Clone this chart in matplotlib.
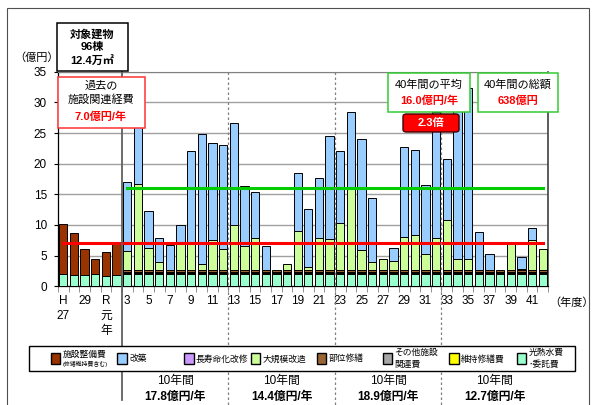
import numpy as np
import matplotlib
matplotlib.use("Agg")
import matplotlib.pyplot as plt
from matplotlib.patches import Rectangle, FancyBboxPatch
from matplotlib.lines import Line2D
from matplotlib.transforms import blended_transform_factory

plt.rcParams['font.family'] = ['Liberation Sans', 'Noto Sans CJK JP', 'DejaVu Sans']

# ---------------- data ----------------
years = ["H27", "H28", "H29", "H30", "R1", "R2"] + [f"R{i}" for i in range(3, 43)]
tick_labels = {0: "H\n27", 2: "29", 4: "R\n元\n年"}
for i in range(3, 42, 2):
    tick_labels[i + 3] = str(i)

# 施設整備費 (past only)
seibi = [8.1, 6.8, 4.2, 2.4, 3.9, 5.1] + [0] * 40
# 光熱水費・委託費
kounetsu = [2.0, 1.9, 1.9, 2.0, 1.7, 1.9] + [1.95] * 40
# 維持修繕費
iji = [0] * 6 + [0.15] * 40
# その他施設関連費
sonota = [0] * 6 + [0.2] * 40
# 部位修繕
bui = [0] * 6 + [0.35] * 40
# 長寿命化改修
chojumyo = [0] * 46
# 大規模改造
daikibo = [0] * 6 + [3.05, 14.05, 3.65, 1.25, 0, 4.65, 4.65, 0.95, 4.95, 3.45,
                     7.35, 3.85, 5.15, 0, 0, 0.95, 6.35, 0.55, 5.15, 5.05,
                     7.65, 13.15, 3.25, 1.3, 1.8, 1.45, 5.35, 5.75, 2.65, 5.15,
                     8.15, 1.75, 1.85, 0, 0, 0, 4.65, 0.1, 4.95, 3.45]
# 改築
kaichiku = [0] * 6 + [11.3, 14.1, 6.0, 4.0, 4.15, 2.7, 14.8, 21.2, 15.7, 16.9,
                      16.7, 9.8, 7.5, 3.85, 0, 0, 9.4, 9.4, 9.8, 16.8,
                      11.8, 12.6, 18.2, 10.45, 0, 2.1, 14.7, 13.8, 11.3, 20.7,
                      10.0, 25.1, 27.8, 6.15, 2.65, 0, 0, 1.95, 1.9, 0]

past_avg = 7.0
future_avg = 16.0
decade_labels = ["17.8億円/年", "14.4億円/年", "18.9億円/年", "12.7億円/年"]

series = [
    ("光熱水費・委託費", kounetsu, "#99FFCC"),
    ("維持修繕費", iji, "#FFFF00"),
    ("その他施設関連費", sonota, "#A6A6A6"),
    ("部位修繕", bui, "#996633"),
    ("長寿命化改修", chojumyo, "#CC99FF"),
    ("大規模改造", daikibo, "#CCFF99"),
    ("改築", kaichiku, "#99CCFF"),
    ("施設整備費", seibi, "#993300"),
]

# ---------------- figure ----------------
W, H = 595, 405
fig = plt.figure(figsize=(W / 100, H / 100), dpi=100)

def fx(x):
    return x / W

def fy(y):
    return 1 - y / H

ax_l, ax_r, ax_t, ax_b = 58, 548, 71.7, 286.3
ax = fig.add_axes([fx(ax_l), fy(ax_b), fx(ax_r) - fx(ax_l), fy(ax_t) - fy(ax_b)])

x = np.arange(len(years))
bottom = np.zeros(len(years))
for name, vals, col in series:
    v = np.array(vals, dtype=float)
    m = v > 0
    ax.bar(x[m], v[m], bottom=bottom[m], width=0.78, color=col,
           edgecolor="black", linewidth=0.7, zorder=3)
    bottom += v

ax.plot([0, 45], [past_avg, past_avg], color="#FF0000", lw=2.2, zorder=5)
ax.plot([6, 45], [future_avg, future_avg], color="#00CC00", lw=2.2, zorder=5)

ax.set_xlim(-0.5, 45.5)
ax.set_ylim(0, 35)
ax.set_yticks(range(0, 36, 5))
ax.tick_params(axis="y", labelsize=8.5, length=3, width=0.8, pad=5)
ax.yaxis.grid(True, color="#A0A0A0", lw=1, zorder=0)
ax.set_axisbelow(True)

pos = sorted(tick_labels)
ax.set_xticks(pos)
ax.set_xticklabels([tick_labels[p] for p in pos], fontsize=8.5, linespacing=1.35,
                   va="top")
ax.tick_params(axis="x", which="major", length=0, pad=6)
ax.set_xticks(np.arange(-0.5, 46, 1), minor=True)
ax.tick_params(axis="x", which="minor", length=4, width=0.6, color="#808080")

for s in ["left", "bottom"]:
    ax.spines[s].set_color("black")
    ax.spines[s].set_linewidth(0.9)
ax.spines["top"].set_color("#808080")
ax.spines["right"].set_color("#404040")
ax.spines["right"].set_linewidth(1.2)

# vertical separators
bt = blended_transform_factory(ax.transData, fig.transFigure)
fig.add_artist(Line2D([5.5, 5.5], [fy(71.7), fy(400)], transform=bt,
                      color="#606060", lw=1.3, zorder=1))
for xv in [15.5, 25.5, 35.5]:
    fig.add_artist(Line2D([xv, xv], [fy(71.7), fy(406)], transform=bt,
                          color="#808080", lw=0.9, ls=(0, (2, 2)), zorder=1))

# outer border
fig.add_artist(Rectangle((fx(7), fy(410)), fx(589) - fx(7), fy(8) - fy(410),
                         transform=fig.transFigure, fill=False,
                         edgecolor="#505050", lw=0.8))

fig.text(fx(37), fy(58), "（億円）", fontsize=8, ha="center", va="center")
fig.text(fx(572), fy(303), "（年度）", fontsize=8, ha="center", va="center")

def box(x0, y0, x1, y1, ec, lw=1.0, fc="white", z=10):
    fig.add_artist(Rectangle((fx(x0), fy(y1)), fx(x1) - fx(x0), fy(y0) - fy(y1),
                             transform=fig.transFigure, facecolor=fc,
                             edgecolor=ec, lw=lw, zorder=z))

# 対象建物
box(57, 23, 128, 71, "black", lw=1.1)
for txt, yy in [("対象建物", 34), ("96棟", 47), ("12.4万㎡", 61)]:
    fig.text(fx(92.5), fy(yy), txt, fontsize=8, fontweight="bold",
             ha="center", va="center", zorder=11)

# 過去の施設関連経費
box(58, 77, 145, 128, "#FF3333", lw=1.1)
fig.text(fx(101), fy(86), "過去の", fontsize=8, ha="center", va="center", zorder=11)
fig.text(fx(101), fy(100), "施設関連経費", fontsize=8, ha="center", va="center", zorder=11)
fig.text(fx(101), fy(117), "7.0億円/年", fontsize=8, color="#FF0000",
         fontweight="bold", ha="center", va="center", zorder=11)

# 40年間の平均
box(388, 73, 470, 112, "#33CC33", lw=1.1)
fig.text(fx(429), fy(85), "40年間の平均", fontsize=8, ha="center", va="center", zorder=11)
fig.text(fx(429), fy(101), "16.0億円/年", fontsize=8, color="#FF0000",
         fontweight="bold", ha="center", va="center", zorder=11)

# 40年間の総額
box(478, 73, 558, 112, "#33CC33", lw=1.1)
fig.text(fx(518), fy(85), "40年間の総額", fontsize=8, ha="center", va="center", zorder=11)
fig.text(fx(518), fy(101), "638億円", fontsize=8, color="#FF0000",
         fontweight="bold", ha="center", va="center", zorder=11)

# 2.3倍
fig.add_artist(FancyBboxPatch((fx(403), fy(132)), fx(459) - fx(403), fy(114) - fy(132),
                              boxstyle="round,pad=0,rounding_size=0.006",
                              transform=fig.transFigure, facecolor="#FF0000",
                              edgecolor="#400000", lw=1.0, zorder=10))
fig.text(fx(431), fy(123), "2.3倍", fontsize=8, color="white", fontweight="bold",
         ha="center", va="center", zorder=11)

# legend
box(29, 346, 575, 371, "black", lw=1.0, z=6)
leg = [
    (50.5, "#993300", ["施設整備費"], True),
    (117, "#99CCFF", ["改築"], False),
    (184, "#CC99FF", ["長寿命化改修"], False),
    (250.5, "#CCFF99", ["大規模改造"], False),
    (316.5, "#996633", ["部位修繕"], False),
    (382.5, "#A6A6A6", ["その他施設", "関連費"], False),
    (449, "#FFFF00", ["維持修繕費"], False),
    (516.5, "#99FFCC", ["光熱水費", "･委託費"], False),
]
for px, col, lines, small in leg:
    box(px, 353.5, px + 9.5, 364, "black", lw=1.0, fc=col, z=7)
    if small:
        fig.text(fx(px + 12), fy(354), lines[0], fontsize=6.3, ha="left",
                 va="center", zorder=8)
        fig.text(fx(px + 12), fy(364), "(修繕維持費含む)", fontsize=4.2,
                 ha="left", va="center", zorder=8)
    elif len(lines) == 1:
        fig.text(fx(px + 12), fy(359), lines[0], fontsize=6.3, ha="left",
                 va="center", zorder=8)
    else:
        fig.text(fx(px + 12), fy(352.5), lines[0], fontsize=6.3, ha="left",
                 va="center", zorder=8)
        fig.text(fx(px + 12), fy(364.5), lines[1], fontsize=6.3, ha="left",
                 va="center", zorder=8)

# decade annotations
for i, lab in enumerate(decade_labels):
    cx = 10.5 + 10 * i
    fig.text(cx, fy(381), "10年間", transform=bt, fontsize=8.5,
             ha="center", va="center")
    fig.text(cx, fy(397), lab, transform=bt, fontsize=8.5, fontweight="bold",
             ha="center", va="center")

fig.savefig("out.png", dpi=100)
